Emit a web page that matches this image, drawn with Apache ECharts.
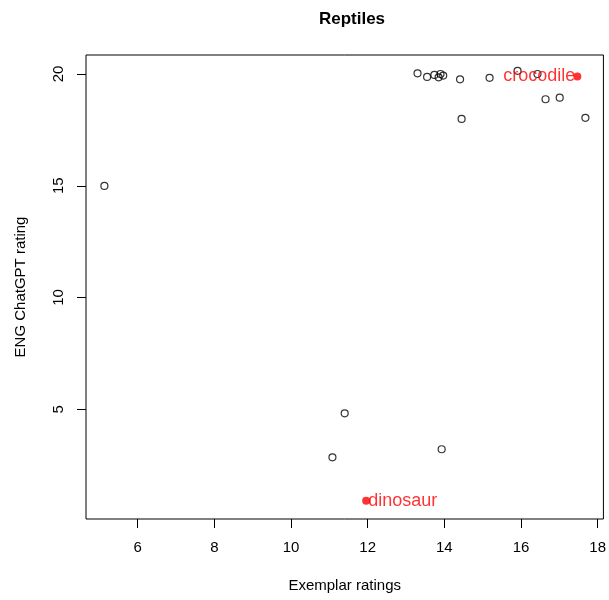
<!DOCTYPE html>
<html>
<head>
<meta charset="utf-8">
<script src="https://cdn.jsdelivr.net/npm/echarts@6/dist/echarts.min.js"></script>
<style>
  html, body { margin: 0; padding: 0; background: #fff; }
  #chart { width: 609px; height: 600px; }
</style>
</head>
<body>
<div id="chart"></div>
<script>
// Exemplar ratings (x) vs ENG ChatGPT rating (y) for reptile items
const exemplarX = [5.13, 13.30, 13.55, 13.74, 13.85, 13.90, 13.97, 14.41, 15.18, 15.91,
                   16.43, 16.64, 17.01, 14.45, 17.68, 11.40, 11.08, 13.93];
const chatgptY  = [14.99, 20.03, 19.87, 19.96, 19.85, 20.00, 19.93, 19.76, 19.83, 20.14,
                   20.00, 18.87, 18.94, 17.99, 18.04, 4.82, 2.85, 3.21];

// Named items drawn in red
const hiNames = ['crocodile', 'dinosaur'];
const hiX = [17.47, 11.96];
const hiY = [19.89, 0.91];
const hiLabelSide = ['left', 'right'];

const xTicks = [6, 8, 10, 12, 14, 16, 18];
const yTicks = [5, 10, 15, 20];

const FONT = '"Liberation Sans", Arial, sans-serif';

const chart = echarts.init(document.getElementById('chart'));

chart.setOption({
  animation: false,
  backgroundColor: '#ffffff',
  title: {
    text: 'Reptiles',
    left: 347,
    textAlign: 'center',
    top: 6,
    textStyle: { fontFamily: FONT, fontWeight: 'bold', fontSize: 17, color: '#000' }
  },
  grid: {
    left: 86, right: 3, top: 55, bottom: 81,
    show: true, borderColor: '#000', borderWidth: 1, backgroundColor: 'transparent'
  },
  xAxis: {
    type: 'value',
    min: 4.65, max: 18.15,
    name: 'Exemplar ratings',
    nameLocation: 'middle',
    nameGap: 59,
    nameTextStyle: { fontFamily: FONT, fontSize: 15, color: '#000', verticalAlign: 'top' },
    splitLine: { show: false },
    axisLine: { show: false },
    axisTick: { show: true, inside: false, length: 9, customValues: xTicks,
                lineStyle: { color: '#000', width: 1 } },
    axisLabel: { customValues: xTicks, margin: 21, fontFamily: FONT, fontSize: 15, color: '#000' }
  },
  yAxis: {
    type: 'value',
    min: 0.09, max: 20.85,
    name: 'ENG ChatGPT rating',
    nameLocation: 'middle',
    nameGap: 58,
    nameRotate: 90,
    nameTextStyle: { fontFamily: FONT, fontSize: 15, color: '#000' },
    splitLine: { show: false },
    axisLine: { show: false },
    axisTick: { show: true, inside: false, length: 9, customValues: yTicks,
                lineStyle: { color: '#000', width: 1 } },
    axisLabel: { customValues: yTicks, rotate: 90, margin: 20, fontFamily: FONT, fontSize: 15, color: '#000' }
  },
  series: [
    {
      type: 'scatter',
      data: exemplarX.map((x, i) => [x, chatgptY[i]]),
      symbol: 'circle',
      symbolSize: 7,
      itemStyle: { color: 'rgba(0,0,0,0)', borderColor: '#000', borderWidth: 1.2 },
      z: 3
    },
    {
      type: 'scatter',
      data: hiNames.map((n, i) => ({
        name: n,
        value: [hiX[i], hiY[i]],
        label: { position: hiLabelSide[i] }
      })),
      symbol: 'circle',
      symbolSize: 8,
      itemStyle: { color: '#ff0000' },
      label: {
        show: true,
        formatter: p => p.name,
        distance: -2,
        fontFamily: FONT,
        fontSize: 18,
        color: '#ff0000'
      },
      z: 4
    }
  ]
});
</script>
</body>
</html>
